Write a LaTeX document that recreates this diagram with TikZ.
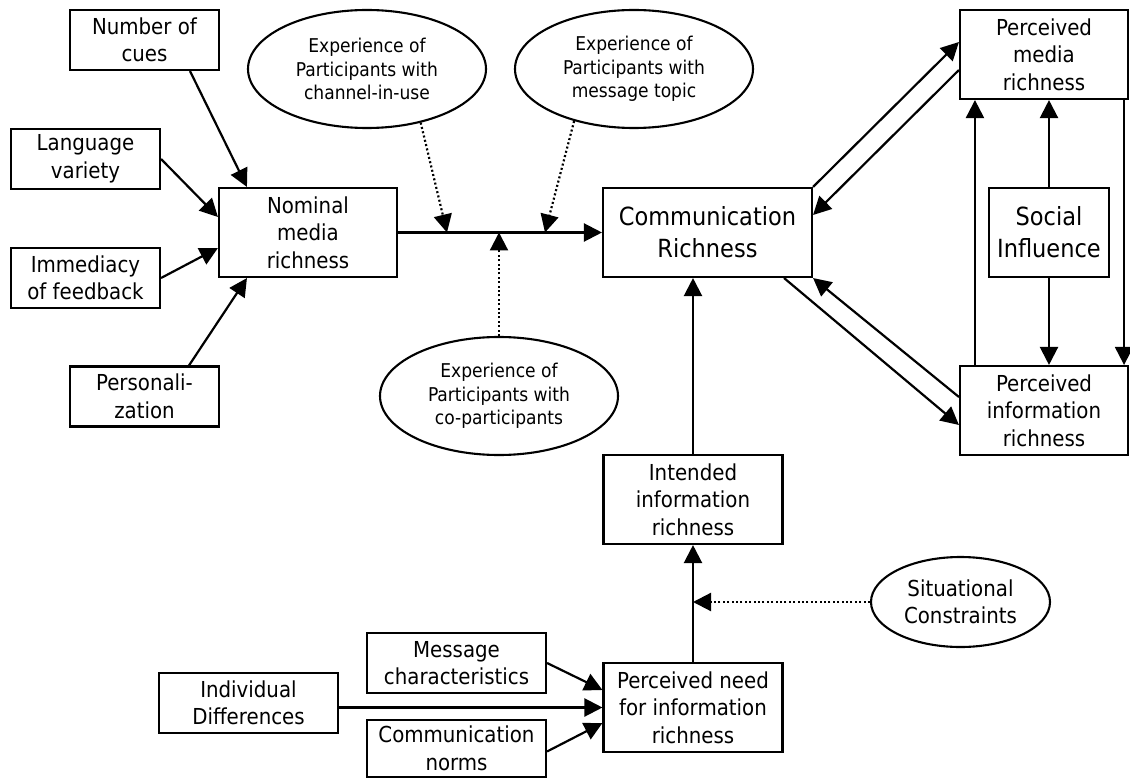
\documentclass[tikz,border=0pt]{standalone}
\usepackage{fontspec}
\setmainfont{DejaVu Sans Condensed}
\usetikzlibrary{arrows.meta,shapes.geometric}
\begin{document}
\begin{tikzpicture}[x=1pt,y=-1pt,
  box/.style={draw,line width=2.1pt,rectangle,inner sep=0pt,align=center,
    font=\fontsize{22}{27.5}\selectfont},
  smallbox/.style={box,minimum width=149pt,minimum height=60pt},
  widebox/.style={box,minimum width=179pt,minimum height=89pt},
  bigbox/.style={box,font=\fontsize{25}{32}\selectfont},
  oval/.style={draw,line width=2.1pt,ellipse,inner sep=0pt,align=center,
    font=\fontsize{19}{23.3}\selectfont},
  link/.style={line width=2.2pt,-{Triangle[length=18pt,width=18pt]}},
  hint/.style={link,dash pattern=on 2pt off 2.4pt}]

\fill[white] (0,0) rectangle (1130,778);
\useasboundingbox (0,0) rectangle (1130,778);

% media richness inputs
\node[smallbox] (cues) at (144.5,40)  {Number of\\cues};
\node[smallbox] (lang) at (85.5,159)  {Language\\variety};
\node[smallbox] (imm)  at (85.5,278)  {Immediacy\\of feedback};
\node[smallbox] (pers) at (144.5,396.5) {Personali-\\zation};
\node[box,minimum width=178pt,minimum height=89pt] (nominal) at (308,232.5) {Nominal\\media\\richness};

% moderators
\node[oval,minimum width=238pt,minimum height=118pt] (e1) at (367,69)
  {Experience of\\Participants with\\channel-in-use};
\node[oval,minimum width=238pt,minimum height=118pt] (e2) at (634,69)
  {Experience of\\Participants with\\message topic};
\node[oval,minimum width=238pt,minimum height=118pt] (e3) at (499,396)
  {Experience of\\Participants with\\co-participants};

% centre
\node[bigbox,minimum width=209pt,minimum height=89pt] (cr) at (707.5,232.5)
  {Communication\\Richness};
\node[widebox] (intended) at (693,499.5) {Intended\\information\\richness};
\node[widebox] (need) at (693,707.5) {Perceived need\\for information\\richness};
\node[oval,minimum width=179pt,minimum height=90pt,font=\fontsize{22}{27.5}\selectfont] (sit) at (960.5,602)
  {Situational\\Constraints};

% information need inputs
\node[box,minimum width=179pt,minimum height=60pt] (ind) at (248.5,703) {Individual\\Differences};
\node[box,minimum width=179pt,minimum height=60pt] (msg) at (456.5,663) {Message\\characteristics};
\node[box,minimum width=179pt,minimum height=57pt] (norms) at (456.5,748.5) {Communication\\norms};

% perceptions
\node[box,minimum width=168pt,minimum height=89pt] (pmr) at (1044,54.5) {Perceived\\media\\richness};
\node[bigbox,minimum width=120pt,minimum height=89pt] (social) at (1049,232.5) {Social\\Influence};
\node[box,minimum width=168pt,minimum height=89pt] (pir) at (1044,410.5) {Perceived\\information\\richness};

% points on the main line where moderators act
\coordinate (m1) at (447,232.5);
\coordinate (m3) at (499,232.5);
\coordinate (m2) at (545,232.5);

% inputs to nominal media richness
\draw[link] ([xshift=45.5pt]cues.south) -- ([xshift=29pt]nominal.north west);
\draw[link] (lang.east) -- ([yshift=15.5pt]nominal.west);
\draw[link] (imm.east) -- ([yshift=-15.5pt]nominal.west);
\draw[link] ([xshift=44.5pt]pers.north) -- ([xshift=29pt]nominal.south west);

% main line and moderators
\draw[link] (nominal.east) -- (cr.west);
\draw[hint] (e1.-45) -- (m1);
\draw[hint] (e2.-139) -- (m2);
\draw[hint] (e3.north) -- (m3);

% information richness chain
\draw[link] (intended.north) -- (intended.north |- cr.south);
\draw[link] (need.north) -- (intended.south);
\draw[hint] (sit.west) -- (need.north |- sit.west);
\draw[link] (msg.east) -- ([yshift=17.5pt]need.west);
\draw[link] (ind.east |- need.west) -- (need.west);
\draw[link] ([yshift=-3pt]norms.east) -- ([yshift=-15.5pt]need.west);

% links to perceptions
\draw[link] (cr.north east) -- ([yshift=12.5pt]pmr.west);
\draw[link] ([yshift=-15.5pt]pmr.west) -- ([yshift=17.5pt]cr.east);
\draw[link] ([yshift=13.5pt]pir.west) -- (cr.south east);
\draw[link] ([xshift=-29pt]cr.south east) -- ([yshift=-14.5pt]pir.west);

% between the perceptions
\draw[link] ([xshift=16pt]pir.north west) -- ([xshift=16pt]pmr.south west);
\draw[link] (social.north) -- (social.north |- pmr.south);
\draw[link] (social.south) -- (social.south |- pir.north);
\draw[link] ([xshift=-5pt]pmr.south east) -- ([xshift=-5pt]pir.north east);
\end{tikzpicture}
\end{document}
